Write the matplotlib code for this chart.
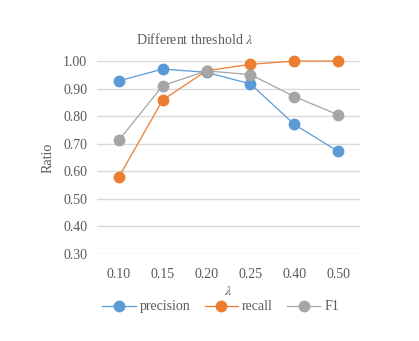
import numpy as np
import matplotlib
matplotlib.use("Agg")
import matplotlib.pyplot as plt

# values
thresholds = ["0.10", "0.15", "0.20", "0.25", "0.40", "0.50"]
precision = [0.928, 0.971, 0.959, 0.917, 0.770, 0.672]
recall = [0.580, 0.859, 0.965, 0.988, 1.000, 1.000]
f1 = [0.713, 0.911, 0.964, 0.951, 0.871, 0.805]
yticks = [0.30, 0.40, 0.50, 0.60, 0.70, 0.80, 0.90, 1.00]

plt.rcParams['font.family'] = ['Liberation Serif', 'DejaVu Serif']
plt.rcParams['mathtext.fontset'] = 'stix'
txt = '#595959'

fig = plt.figure(figsize=(4.19, 3.41), dpi=100)
ax = fig.add_axes([0.2315, 0.255, 0.628, 0.566])

x = np.arange(len(thresholds))
series = [(precision, 'precision', '#5B9BD5'),
          (recall, 'recall', '#ED7D31'),
          (f1, 'F1', '#A5A5A5')]
for vals, name, col in series:
    ax.plot(x, vals, color=col, lw=0.9, marker='o', ms=7.5, label=name,
            clip_on=False, zorder=3)

ax.set_xlim(-0.5, len(thresholds) - 0.5)
ax.set_ylim(0.3, 1.0)
ax.set_xticks(x)
ax.set_xticklabels(thresholds)
ax.set_yticks(yticks)
ax.set_yticklabels(["%.2f" % v for v in yticks])
ax.tick_params(length=0, labelsize=10, colors=txt)
ax.tick_params(axis='x', pad=10)
ax.tick_params(axis='y', pad=7)
ax.grid(axis='y', color='#D9D9D9', lw=1)
ax.set_axisbelow(True)
for s in ax.spines.values():
    s.set_visible(False)

ax.set_ylabel('Ratio', fontsize=10, color=txt, labelpad=6)
ax.set_xlabel(r'$\lambda$', fontsize=10, color=txt, labelpad=3)
fig.text(0.465, 0.885, r'Different threshold $\lambda$', fontsize=10,
         color=txt, ha='center', va='center')

fig.legend(loc='center', bbox_to_anchor=(0.527, 0.1), ncol=3, frameon=False,
           fontsize=10, labelcolor=txt, handlelength=2.4, handletextpad=0.3,
           columnspacing=1.0)

fig.savefig('out.png', dpi=100, facecolor='white')
